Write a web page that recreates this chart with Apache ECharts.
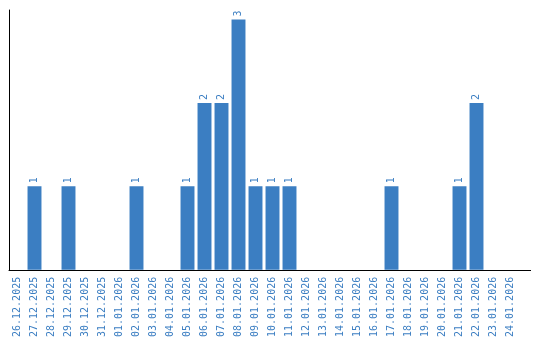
<!DOCTYPE html>
<html><head><meta charset="utf-8">
<script src="https://cdn.jsdelivr.net/npm/echarts@6/dist/echarts.min.js"></script>
<style>html,body{margin:0;padding:0;background:#fff}#c{width:540px;height:340px}</style>
</head><body><div id="c"></div>
<script>
var categories = ["26.12.2025","27.12.2025","28.12.2025","29.12.2025","30.12.2025","31.12.2025","01.01.2026","02.01.2026","03.01.2026","04.01.2026","05.01.2026","06.01.2026","07.01.2026","08.01.2026","09.01.2026","10.01.2026","11.01.2026","12.01.2026","13.01.2026","14.01.2026","15.01.2026","16.01.2026","17.01.2026","18.01.2026","19.01.2026","20.01.2026","21.01.2026","22.01.2026","23.01.2026","24.01.2026"];
var values = [0,1,0,1,0,0,0,1,0,0,1,2,2,3,1,1,1,0,0,0,0,0,1,0,0,0,1,2,0,0];
var blue = '#3b7ec2';
var chart = echarts.init(document.getElementById('c'), null, {renderer:'canvas'});
chart.setOption({
  animation:false,
  grid:{left:9, top:10, width:510, height:260, containLabel:false},
  xAxis:{type:'category', data:categories, boundaryGap:true,
    axisLine:{show:true, lineStyle:{color:'#000', width:1}},
    axisTick:{show:false},
    axisLabel:{rotate:90, interval:0, color:blue, fontFamily:'DejaVu Sans Mono', fontSize:10, margin:7}},
  yAxis:{type:'value', min:0, max:3.114, splitLine:{show:false}, axisLabel:{show:false},
    axisTick:{show:false}, axisLine:{show:true, lineStyle:{color:'#000', width:1}}},
  graphic:[{type:'line', shape:{x1:519, y1:270.5, x2:531, y2:270.5}, style:{stroke:'#000', lineWidth:1}}],
  series:[{type:'bar', data:values, barCategoryGap:'18%', itemStyle:{color:blue},
    label:{show:true, position:'top', rotate:90, align:'left', verticalAlign:'middle', distance:3,
      color:blue, fontFamily:'DejaVu Sans Mono', fontSize:10,
      formatter:function(p){return p.value>0?String(p.value):'';}}}]
});
</script></body></html>
